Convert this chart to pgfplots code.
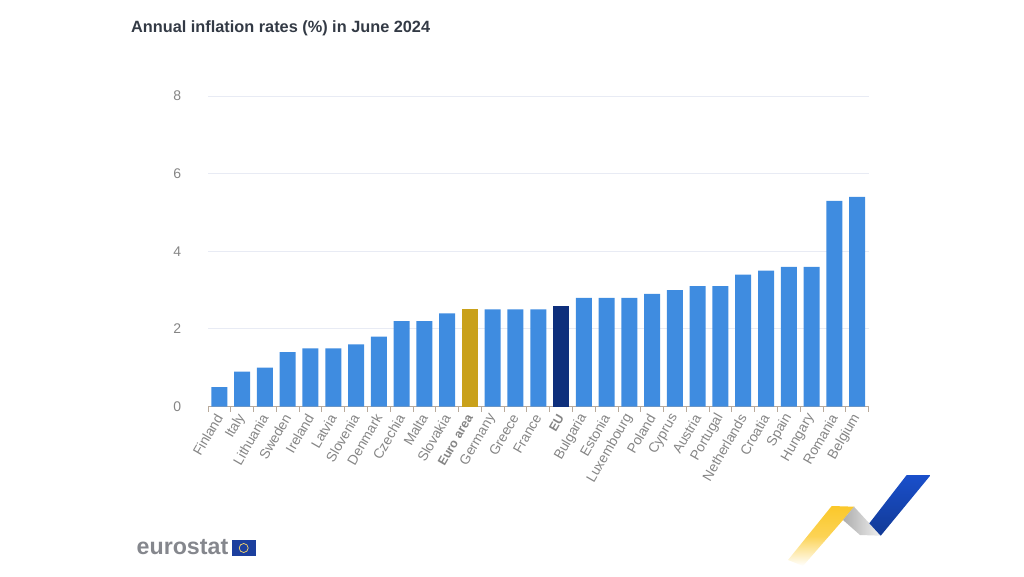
\documentclass[border=0pt]{standalone}
\usepackage{pgfplots}
\pgfplotsset{compat=1.18}
\usepackage{fontspec}
\setmainfont{Liberation Sans}
\definecolor{barblue}{HTML}{3F8CE0}
\definecolor{euroyellow}{HTML}{C9A11B}
\definecolor{eunavy}{HTML}{0E2F7C}
\definecolor{titlec}{HTML}{333A45}
\definecolor{labelc}{HTML}{858585}
\definecolor{gridc}{HTML}{E8EBF4}
\definecolor{axisc}{HTML}{B8AA9C}
\definecolor{logogray}{HTML}{85878D}
\definecolor{flagblue}{HTML}{1C3F9E}
\definecolor{logoyellow}{HTML}{FBC82A}
\definecolor{logoblueA}{HTML}{1A4FCB}
\definecolor{logoblueB}{HTML}{123A96}
\begin{document}
\begin{tikzpicture}[x=1pt,y=1pt]
\path (0,0) rectangle (1024,576);
\node[anchor=west,inner sep=0pt,text=titlec,font=\fontsize{16.3}{18}\selectfont\bfseries] at (131,547.5) {Annual inflation rates (\%) in June 2024};
\begin{axis}[
  at={(208pt,169.5pt)},anchor=south west,
  scale only axis,width=660.5pt,height=310.5pt,
  xmin=-0.5,xmax=28.5,ymin=0,ymax=8,
  axis y line*=left,axis x line*=bottom,
  y axis line style={draw=none},
  x axis line style={draw=axisc,line width=1pt},
  /pgf/number format/assume math mode=true,
  ytick={0,2,4,6,8},
  ymajorgrids,grid style={gridc,line width=0.8pt},
  major y tick style={draw=none},
  yticklabel style={font=\fontsize{14}{16}\selectfont,text=labelc,xshift=-19pt},
  xtick={0,...,28},
  xticklabels={Finland,Italy,Lithuania,Sweden,Ireland,Latvia,Slovenia,Denmark,Czechia,Malta,Slovakia,{\fontsize{12.4}{14}\selectfont\textbf{Euro area}},Germany,Greece,France,{\fontsize{12.4}{14}\selectfont\textbf{EU}},Bulgaria,Estonia,Luxembourg,Poland,Cyprus,Austria,Portugal,Netherlands,Croatia,Spain,Hungary,Romania,Belgium},
  major x tick style={draw=none},
  minor xtick={-0.5,0.5,...,28.5},
  minor x tick style={draw=axisc,line width=0.9pt},
  minor tick length=5pt,
  tick align=outside,
  xticklabel style={font=\fontsize{13.8}{16}\selectfont,text=labelc,rotate=60,anchor=east,xshift=-0.5pt,yshift=-2pt},
  ybar,bar width=16pt,bar shift=0pt,
  clip=false,
]
\addplot[fill=barblue,draw=none] coordinates {
(0,0.5)(1,0.9)(2,1.0)(3,1.4)(4,1.5)(5,1.5)(6,1.6)(7,1.8)(8,2.2)(9,2.2)(10,2.4)
(12,2.5)(13,2.5)(14,2.5)(16,2.8)(17,2.8)(18,2.8)(19,2.9)(20,3.0)(21,3.1)(22,3.1)(23,3.4)(24,3.5)(25,3.6)(26,3.6)(27,5.3)(28,5.4)};
\addplot[fill=euroyellow,draw=none] coordinates {(11,2.5)};
\addplot[fill=eunavy,draw=none] coordinates {(15,2.6)};
\end{axis}
% eurostat logo
\node[anchor=west,inner sep=0pt,text=logogray,font=\fontsize{23.2}{25}\selectfont\bfseries] at (136.5,28.5) {eurostat};
\fill[flagblue] (232,20) rectangle (255.5,36);
\draw[logoyellow!70!white,line width=0.7pt] (243.7,28) circle (4.5);
% decorative arrow
\shade[bottom color=white,top color=logoyellow,middle color=logoyellow!80!white] (788,16) -- (803,10) -- (843,56) -- (854.3,69.3) -- (831.7,70) -- cycle;
\shade[left color=black!32,right color=black!6] (843,56) -- (854,69.3) -- (880.7,40.3) -- (860,41) -- cycle;
\shade[bottom color=logoblueB,top color=logoblueA] (906.7,101) -- (930.7,101) -- (880.7,40.3) -- (869.3,52.7) -- cycle;
\end{tikzpicture}
\end{document}
